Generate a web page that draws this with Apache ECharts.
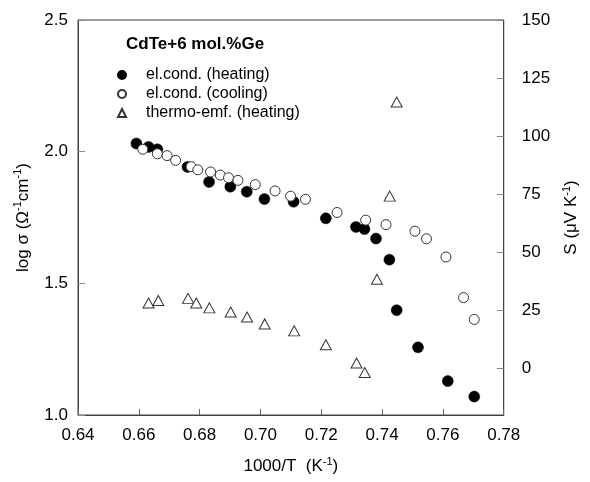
<!DOCTYPE html>
<html>
<head>
<meta charset="utf-8">
<script src="https://cdn.jsdelivr.net/npm/echarts@6/dist/echarts.min.js"></script>
<style>html,body{margin:0;padding:0;background:#fff}#c{width:590px;height:482px}</style>
</head>
<body>
<div id="c"></div>
<script>
// el. conductivity, heating: [1000/T, log sigma]
const heatX = [0.6592,0.6632,0.6661,0.6760,0.6831,0.6901,0.6955,0.7013,0.7109,0.7215,0.7314,0.7342,0.7380,0.7424,0.7448,0.7518,0.7616,0.7703];
const heatY = [2.031,2.018,2.009,1.942,1.885,1.867,1.848,1.820,1.810,1.747,1.714,1.706,1.670,1.590,1.398,1.257,1.129,1.070];
// el. conductivity, cooling
const coolX = [0.6613,0.6661,0.6693,0.6721,0.6772,0.6794,0.6836,0.6868,0.6895,0.6926,0.6983,0.7048,0.7099,0.7148,0.7252,0.7346,0.7413,0.7508,0.7546,0.7610,0.7668,0.7703];
const coolY = [2.009,1.992,1.985,1.967,1.943,1.931,1.923,1.911,1.901,1.891,1.875,1.851,1.831,1.819,1.769,1.740,1.723,1.698,1.669,1.600,1.446,1.363];
// thermo-emf, heating: [1000/T, S]
const semfX = [0.6632,0.6664,0.6762,0.6789,0.6832,0.6902,0.6956,0.7014,0.7111,0.7215,0.7316,0.7343,0.7383,0.7425,0.7448];
const semfY = [28.2,29.3,30.2,28.2,26.1,24.3,22.2,19.2,16.2,10.2,2.4,-1.7,38.4,74.2,114.7];
const rightTicks = [0,25,50,75,100,125,150];

const zip = (a,b) => a.map((v,i)=>[v,b[i]]);
const FONT = 'Liberation Sans, Arial, sans-serif';
const supRich = {sup:{fontSize:11,verticalAlign:'top',fontFamily:FONT,color:'#000',lineHeight:11}};

const chart = echarts.init(document.getElementById('c'), null, {renderer:'canvas'});
chart.setOption({
  animation:false,
  backgroundColor:'#fff',
  textStyle:{fontFamily:FONT},
  title:{text:'CdTe+6 mol.%Ge', left:121, top:31, textStyle:{fontSize:17,fontWeight:'bold',color:'#000',fontFamily:FONT}},
  legend:{
    orient:'vertical', left:112, top:62, itemWidth:8, itemHeight:8, itemGap:3,
    textStyle:{fontSize:16,color:'#000',fontFamily:FONT,padding:[0,0,0,15]},
    data:['el.cond. (heating)','el.cond. (cooling)','thermo-emf. (heating)']
  },
  grid:{left:78,right:76,top:20,bottom:62,show:true,borderColor:'#404040',borderWidth:1,backgroundColor:'transparent'},
  xAxis:{
    type:'value',min:0.64,max:0.78,interval:0.02,
    name:'1000/T  (K{sup|-1})',nameLocation:'middle',nameGap:41,
    nameTextStyle:{fontSize:17,lineHeight:21,color:'#000',fontFamily:FONT,rich:supRich},
    axisLine:{onZero:false,lineStyle:{color:'#404040'}},
    axisTick:{inside:true,length:6,lineStyle:{color:'#666'}},
    axisLabel:{fontSize:17,color:'#000',margin:12,formatter:v=>v.toFixed(2)},
    splitLine:{show:false}
  },
  yAxis:[{
    type:'value',min:1.0,max:2.5,interval:0.5,
    name:'log σ (Ω{sup|-1}cm{sup|-1})',nameLocation:'middle',nameGap:41,nameRotate:90,
    nameTextStyle:{fontSize:17,lineHeight:21,color:'#000',fontFamily:FONT,rich:supRich},
    axisLine:{onZero:false,lineStyle:{color:'#404040'}},
    axisTick:{inside:true,length:7,lineStyle:{color:'#888'}},
    axisLabel:{fontSize:17,color:'#000',margin:10,formatter:v=>v.toFixed(1)},
    splitLine:{show:false}
  },{
    type:'value',min:-20,max:150,position:'right',
    name:'S (μV K{sup|-1})',nameLocation:'middle',nameGap:42,nameRotate:90,
    nameTextStyle:{fontSize:17,lineHeight:21,color:'#000',fontFamily:FONT,rich:supRich},
    axisLine:{show:true,onZero:false,lineStyle:{color:'#404040'}},
    axisTick:{inside:true,length:7,lineStyle:{color:'#888'},customValues:rightTicks},
    axisLabel:{fontSize:17,color:'#000',margin:18,customValues:rightTicks},
    splitLine:{show:false}
  }],
  series:[
    {name:'el.cond. (heating)',type:'scatter',yAxisIndex:0,data:zip(heatX,heatY),symbol:'circle',symbolSize:11,
     itemStyle:{color:'#000',borderColor:'#000',borderWidth:0.5,opacity:1},z:3},
    {name:'el.cond. (cooling)',type:'scatter',yAxisIndex:0,data:zip(coolX,coolY),symbol:'circle',symbolSize:10,
     itemStyle:{color:'#fff',borderColor:'#333',borderWidth:1,opacity:1},z:4},
    {name:'thermo-emf. (heating)',type:'scatter',yAxisIndex:1,data:zip(semfX,semfY),symbol:'triangle',symbolSize:[11,10],
     itemStyle:{color:'#fff',borderColor:'#333',borderWidth:1,opacity:1},z:5}
  ]
});
</script>
</body>
</html>
